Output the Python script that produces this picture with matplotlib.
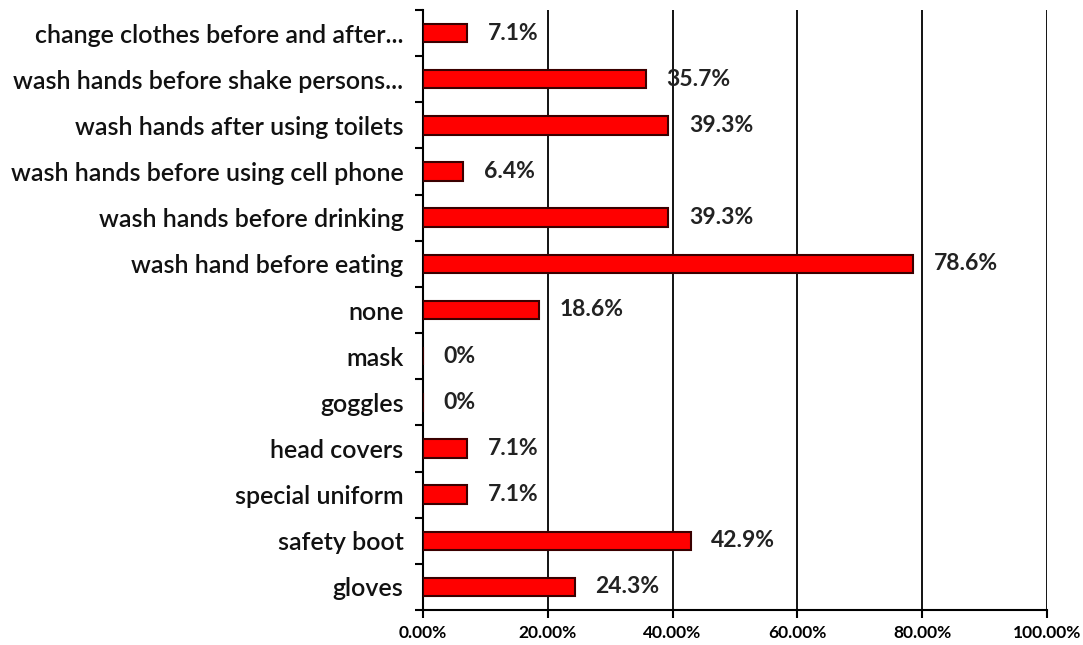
import matplotlib
matplotlib.use("Agg")
import matplotlib.pyplot as plt
from matplotlib.ticker import FixedLocator

categories = ["gloves", "safety boot", "special uniform", "head covers", "goggles",
              "mask", "none", "wash hand before eating", "wash hands before drinking",
              "wash hands before using cell phone", "wash hands after using toilets",
              "wash hands before shake persons...", "change clothes before and after..."]
values = [24.3, 42.9, 7.1, 7.1, 0, 0, 18.6, 78.6, 39.3, 6.4, 39.3, 35.7, 7.1]
labels = ["24.3%", "42.9%", "7.1%", "7.1%", "0%", "0%", "18.6%", "78.6%", "39.3%",
          "6.4%", "39.3%", "35.7%", "7.1%"]
xticks = [0, 20, 40, 60, 80, 100]
xticklabels = ["0.00%", "20.00%", "40.00%", "60.00%", "80.00%", "100.00%"]

plt.rcParams['font.family'] = ['Lato', 'DejaVu Sans']

fig = plt.figure(figsize=(10.83, 6.45), dpi=100)
ax = fig.add_axes([423/1083, 1 - 610/645, (1047-423)/1083, 600/645])

y = list(range(len(categories)))
ax.barh(y, values, height=0.4, color="#ff0000", edgecolor="#3a0000", linewidth=1.5, zorder=3)
for yi, v, lab in zip(y, values, labels):
    ax.text(v + 3.3, yi, lab, va="center", ha="left", fontsize=16.5, fontweight="bold", color="#222222")

ax.set_xlim(0, 100)
ax.set_ylim(-0.5, len(categories) - 0.5)
ax.set_xticks(xticks)
ax.set_xticklabels(xticklabels, fontsize=12.5, fontweight="bold")
ax.set_yticks(y)
ax.set_yticklabels(categories, fontsize=18, fontweight="semibold", color="#111111")
ax.tick_params(axis="y", which="major", length=0, pad=14)
ax.yaxis.set_minor_locator(FixedLocator([i - 0.5 for i in range(len(categories) + 1)]))
ax.tick_params(axis="y", which="minor", length=6, width=1.5, direction="out")
ax.tick_params(axis="x", which="major", length=6, width=1.5, direction="out", pad=5)

ax.grid(axis="x", color="black", linewidth=1.3, zorder=0)
for s in ["top", "right"]:
    ax.spines[s].set_visible(False)
ax.spines["left"].set_linewidth(1.5)
ax.spines["bottom"].set_linewidth(1.5)

fig.savefig("out.png", dpi=100)
